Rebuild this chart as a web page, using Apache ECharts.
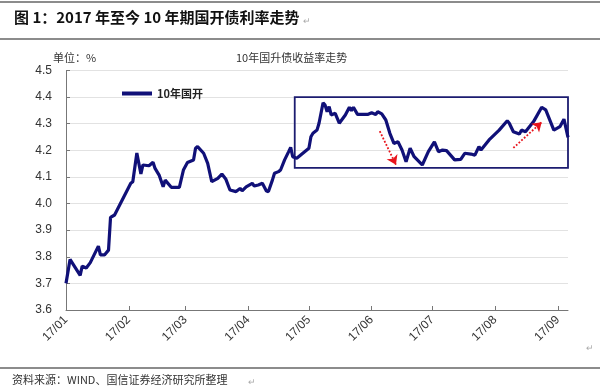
<!DOCTYPE html>
<html><head><meta charset="utf-8">
<script src="https://cdn.jsdelivr.net/npm/echarts@6/dist/echarts.min.js"></script>
<style>html,body{margin:0;padding:0;background:#fff}#c{width:600px;height:392px}</style>
</head><body><div id="c"></div>
<script>
// ---- data ----
const seriesName = '10年国开';
const dates = [
 '2017-01-01','2017-01-03','2017-01-08','2017-01-09','2017-01-11','2017-01-13','2017-01-17','2017-01-18','2017-01-20','2017-01-22',
 '2017-01-23','2017-01-25','2017-02-02','2017-02-03','2017-02-05','2017-02-07','2017-02-08','2017-02-11','2017-02-13','2017-02-14',
 '2017-02-16','2017-02-18','2017-02-19','2017-02-22','2017-02-26','2017-02-28','2017-03-02','2017-03-05','2017-03-06','2017-03-07',
 '2017-03-10','2017-03-12','2017-03-14','2017-03-17','2017-03-19','2017-03-21','2017-03-23','2017-03-26','2017-03-28','2017-03-29',
 '2017-03-31','2017-04-03','2017-04-04','2017-04-06','2017-04-08','2017-04-10','2017-04-11','2017-04-13','2017-04-14','2017-04-16',
 '2017-04-17','2017-04-19','2017-04-21','2017-04-22','2017-04-23','2017-04-25','2017-04-28','2017-05-01','2017-05-02','2017-05-03',
 '2017-05-05','2017-05-06','2017-05-08','2017-05-09','2017-05-10','2017-05-11','2017-05-12','2017-05-14','2017-05-16','2017-05-19',
 '2017-05-21','2017-05-22','2017-05-23','2017-05-25','2017-05-30','2017-06-01','2017-06-03','2017-06-04','2017-06-06','2017-06-08',
 '2017-06-10','2017-06-12','2017-06-14','2017-06-16','2017-06-18','2017-06-20','2017-06-22','2017-06-26','2017-06-29','2017-07-02',
 '2017-07-04','2017-07-06','2017-07-08','2017-07-12','2017-07-15','2017-07-17','2017-07-20','2017-07-22','2017-07-24','2017-07-25',
 '2017-07-27','2017-07-29','2017-08-03','2017-08-07','2017-08-08','2017-08-10','2017-08-13','2017-08-14','2017-08-16','2017-08-20',
 '2017-08-24','2017-08-26','2017-08-30','2017-09-02','2017-09-04','2017-09-06'
];
const yields = [
 3.700,3.790,3.730,3.765,3.758,3.778,3.840,3.807,3.807,3.825,
 3.948,3.957,4.076,4.082,4.190,4.111,4.145,4.142,4.155,4.132,
 4.107,4.063,4.088,4.061,4.061,4.126,4.154,4.164,4.208,4.214,
 4.189,4.151,4.082,4.095,4.111,4.091,4.051,4.045,4.057,4.048,
 4.063,4.076,4.066,4.070,4.076,4.047,4.045,4.089,4.114,4.120,
 4.126,4.164,4.195,4.211,4.176,4.170,4.189,4.208,4.251,4.264,
 4.276,4.302,4.379,4.370,4.345,4.364,4.333,4.339,4.302,4.333,
 4.362,4.349,4.362,4.335,4.335,4.341,4.335,4.345,4.337,4.314,
 4.264,4.226,4.232,4.201,4.157,4.208,4.176,4.145,4.195,4.232,
 4.195,4.201,4.199,4.164,4.166,4.189,4.186,4.182,4.214,4.201,
 4.220,4.239,4.276,4.311,4.302,4.270,4.261,4.276,4.270,4.308,
 4.362,4.352,4.276,4.289,4.317,4.249
];
const monthTicks = ['2017-01-01','2017-02-01','2017-03-01','2017-04-01','2017-05-01','2017-06-01','2017-07-01','2017-08-01','2017-09-01'];
const monthLabels = ['17/01','17/02','17/03','17/04','17/05','17/06','17/07','17/08','17/09'];
const xRange = ['2017-01-01','2017-09-06'];
const yMin = 3.6, yMax = 4.5, yStep = 0.1;
// annotation anchors in data units
const boxCorners = [['2017-04-24', 4.40], ['2017-09-06', 4.134]];
const arrowDown = [['2017-06-05', 4.272], ['2017-06-13', 4.146]];
const arrowUp = [['2017-08-10', 4.209], ['2017-08-24', 4.306]];

// ---- build (x = days since 2017-01-01) ----
const DAY = 86400000;
const base = Date.UTC(2017, 0, 1);
const D = s => { const p = s.split('-').map(Number); return Math.round((Date.UTC(p[0], p[1] - 1, p[2]) - base) / DAY); };
const seriesData = dates.map((d, i) => [D(d), yields[i]]);
const tickVals = monthTicks.map(D);
const fmtX = v => { const i = tickVals.indexOf(Math.round(v)); return i >= 0 ? monthLabels[i] : ''; };
const latin = '"Liberation Sans", Arial, "Noto Sans CJK SC", sans-serif';
const cjk = '"Noto Sans CJK SC", "Liberation Sans", sans-serif';

const chart = echarts.init(document.getElementById('c'), null, {renderer: 'canvas'});
chart.setOption({
  animation: false,
  backgroundColor: '#fff',
  grid: {left: 66, right: 32, top: 70.5, bottom: 82, outerBoundsMode: 'none'},
  legend: {
    data: [seriesName], left: 117, top: 83, icon: 'rect', itemWidth: 30, itemHeight: 4, itemGap: 4,
    textStyle: {fontSize: 11, fontWeight: 'bold', color: '#222', fontFamily: cjk}
  },
  xAxis: {
    type: 'value', min: D(xRange[0]), max: D(xRange[1]),
    axisLine: {lineStyle: {color: '#777', width: 1}},
    axisTick: {show: true, inside: true, length: 4, customValues: tickVals, lineStyle: {color: '#777'}},
    axisLabel: {customValues: tickVals, formatter: fmtX, rotate: 45, margin: 8, fontSize: 12, color: '#333', fontFamily: latin},
    splitLine: {show: false}
  },
  yAxis: {
    type: 'value', min: yMin, max: yMax, interval: yStep,
    axisLine: {show: true, lineStyle: {color: '#777', width: 1}},
    axisTick: {show: true, inside: true, length: 4, lineStyle: {color: '#777'}},
    axisLabel: {formatter: v => v.toFixed(1), margin: 14, fontSize: 12, color: '#333', fontFamily: latin},
    splitLine: {show: true, lineStyle: {color: '#e2e2e2', width: 1}}
  },
  series: [{
    name: seriesName, type: 'line', data: seriesData, symbol: 'none', smooth: false,
    lineStyle: {color: '#101078', width: 3.2}, itemStyle: {color: '#101078'},
    markArea: {
      silent: true,
      itemStyle: {color: 'rgba(0,0,0,0)', borderColor: '#1c1c70', borderWidth: 1.8},
      data: [[{coord: [D(boxCorners[0][0]), boxCorners[0][1]]}, {coord: [D(boxCorners[1][0]), boxCorners[1][1]]}]]
    },
    markLine: {
      silent: true, symbol: ['none', 'arrow'], symbolSize: 9, label: {show: false},
      lineStyle: {color: '#e8141c', width: 1.8, type: 'dotted'},
      emphasis: {disabled: true},
      data: [
        [{coord: [D(arrowDown[0][0]), arrowDown[0][1]]}, {coord: [D(arrowDown[1][0]), arrowDown[1][1]]}],
        [{coord: [D(arrowUp[0][0]), arrowUp[0][1]]}, {coord: [D(arrowUp[1][0]), arrowUp[1][1]]}]
      ]
    }
  }],
  graphic: [
    {type: 'line', shape: {x1: 0, y1: 2, x2: 600, y2: 2}, style: {stroke: '#8c8c8c', lineWidth: 2}},
    {type: 'text', left: 14, top: 10, style: {text: '图 1：2017 年至今 10 年期国开债利率走势', fill: '#111', font: 'bold 15px ' + cjk}},
    {type: 'text', left: 303, top: 16, style: {text: '↵', fill: '#aaa', font: '9px ' + cjk}},
    {type: 'line', shape: {x1: 0, y1: 39, x2: 600, y2: 39}, style: {stroke: '#8c8c8c', lineWidth: 2}},
    {type: 'text', left: 53, top: 52, style: {text: '单位：%', fill: '#333', font: '11px ' + cjk}},
    {type: 'text', left: 236, top: 52, style: {text: '10年国升债收益率走势', fill: '#333', font: '11px ' + cjk}},
    {type: 'text', left: 586, top: 343, style: {text: '↵', fill: '#aaa', font: '9px ' + cjk}},
    {type: 'line', shape: {x1: 0, y1: 368, x2: 600, y2: 368}, style: {stroke: '#8c8c8c', lineWidth: 2}},
    {type: 'text', left: 12, top: 374, style: {text: '资料来源：WIND、国信证券经济研究所整理', fill: '#333', font: '11px ' + cjk}},
    {type: 'text', left: 248, top: 377, style: {text: '↵', fill: '#aaa', font: '9px ' + cjk}}
  ]
});
</script>
</body></html>
